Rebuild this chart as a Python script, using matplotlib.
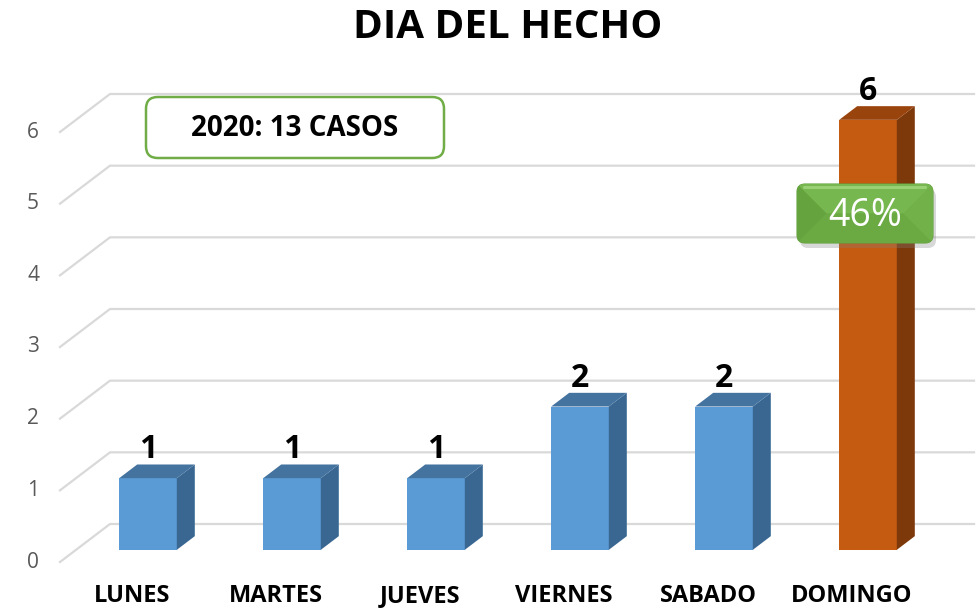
import matplotlib
matplotlib.use("Agg")
import matplotlib.pyplot as plt
import matplotlib.transforms as mtransforms
from matplotlib.patches import Polygon, FancyBboxPatch

categories = ["LUNES", "MARTES", "JUEVES", "VIERNES", "SABADO", "DOMINGO"]
values = [1, 1, 1, 2, 2, 6]
year = 2020
yticks = [0, 1, 2, 3, 4, 5, 6]
title = "DIA DEL HECHO"

W, H = 980, 608
fig = plt.figure(figsize=(W / 100, H / 100), dpi=100)
fig.patch.set_facecolor("white")
ax = fig.add_axes([60 / W, (H - 562) / H, 864 / W, 430 / H])
ax.set_xlim(-0.5, len(categories) - 0.5)
ax.set_ylim(0, 6)
ax.axis("off")

s = fig.dpi / 100.0


def shift(dx, dy):
    return ax.transData + mtransforms.Affine2D().translate(dx * s, dy * s)


DX, DY = 50, 38
f0, f1 = 0.32, 0.68
grid_c = "#D9D9D9"

xl, xr = -0.5, len(categories) - 0.5
for v in yticks:
    p0 = ax.transData.transform((xl, v))
    p1 = p0 + (DX * s, DY * s)
    p2 = ax.transData.transform((xr, v)) + (DX * s, DY * s)
    fig.add_artist(plt.Line2D([p0[0], p1[0], p2[0]], [p0[1], p1[1], p2[1]],
                              transform=None, color=grid_c, lw=1.6, zorder=0))
    ax.text(-0.5, v, str(v), transform=shift(-27, 0), ha="center", va="center",
            fontsize=15, color="#595959", family="Open Sans", clip_on=False)

bw = 0.4
blue = ("#5B9BD5", "#3A6792", "#44739F")
orange = ("#C55A11", "#7E390B", "#9A440D")
imax = values.index(max(values))
bdx, bdy = DX * (f1 - f0), DY * (f1 - f0)
for i, (c, v) in enumerate(zip(categories, values)):
    front, side, top = orange if i == imax else blue
    ox, oy = DX * f0, DY * f0
    tr = shift(ox, oy)
    x0, x1 = i - bw / 2, i + bw / 2
    A = tr.transform([(x1, 0), (x1, v)])
    side_pts = [A[0], A[1], A[1] + (bdx * s, bdy * s), A[0] + (bdx * s, bdy * s)]
    fig.add_artist(Polygon(side_pts, closed=True, transform=None, facecolor=side,
                           edgecolor="none", zorder=2))
    B = tr.transform([(x0, v), (x1, v)])
    top_pts = [B[0], B[1], B[1] + (bdx * s, bdy * s), B[0] + (bdx * s, bdy * s)]
    fig.add_artist(Polygon(top_pts, closed=True, transform=None, facecolor=top,
                           edgecolor="none", zorder=2))
    ax.add_patch(Polygon([(x0, 0), (x1, 0), (x1, v), (x0, v)], closed=True,
                         transform=tr, facecolor=front, edgecolor="none", zorder=3,
                         clip_on=False))
    ax.text(i, v, str(v), transform=shift(ox, oy + 20), ha="center", va="baseline",
            fontsize=23, fontweight="bold", family="Open Sans", color="black",
            clip_on=False)
    ax.text(i, 0, c, transform=shift(0, -40), ha="center", va="baseline",
            fontsize=17, fontweight="bold", family="Open Sans", color="black",
            clip_on=False)

fig.text(508 / W, 1 - 27 / H, title, ha="center", va="center", fontsize=29,
         fontweight="bold", family="Open Sans")

# summary box
total = sum(values)
box = FancyBboxPatch((146 / W, 1 - 158 / H), 298 / W, 61 / H,
                     boxstyle="round,pad=0,rounding_size=0.012",
                     transform=fig.transFigure, facecolor="white",
                     edgecolor="#70AD47", lw=1.8, zorder=5, mutation_aspect=W / H)
fig.add_artist(box)
fig.text(295 / W, 1 - 129 / H, f"{year}: {total} CASOS", ha="center", va="center",
         fontsize=20, fontweight="bold", family="Open Sans", zorder=6)

# percentage callout (beveled green button)
pct = round(100 * max(values) / total)
bx0, bx1, by0, by1 = 797, 933, H - 243, H - 184  # display px (y up)
shadow = FancyBboxPatch((bx0 + 3, by0 - 5), bx1 - bx0, by1 - by0,
                        boxstyle="round,pad=0,rounding_size=8", transform=None,
                        facecolor="#808080", alpha=0.3, edgecolor="none", zorder=6)
fig.add_artist(shadow)
gbox = FancyBboxPatch((bx0, by0), bx1 - bx0, by1 - by0,
                      boxstyle="round,pad=0,rounding_size=8", transform=None,
                      facecolor="#6FAE47", edgecolor="#62A03C", lw=0.8, zorder=7)
fig.add_artist(gbox)
hgt = by1 - by0
cy = (by0 + by1) / 2
lax, rax = bx0 + hgt / 2, bx1 - hgt / 2
facets = [
    ([(bx0, by1), (bx1, by1), (rax, cy), (lax, cy)], "#77B74F"),  # top
    ([(bx0, by0), (bx1, by0), (rax, cy), (lax, cy)], "#6BAA43"),  # bottom
    ([(bx0, by0), (bx0, by1), (lax, cy)], "#64A33D"),  # left
    ([(bx1, by0), (bx1, by1), (rax, cy)], "#72B04A"),  # right
]
for pts, col in facets:
    pg = Polygon(pts, closed=True, transform=None, facecolor=col, edgecolor="none",
                 zorder=7.2)
    fig.add_artist(pg)
    pg.set_clip_path(gbox)
hl = FancyBboxPatch((bx0 + 6, by1 - 5), bx1 - bx0 - 12, 3,
                    boxstyle="round,pad=0,rounding_size=1.5", transform=None,
                    facecolor="#A8DC88", alpha=0.7, edgecolor="none", zorder=7.4)
fig.add_artist(hl)
fig.text(865 / W, 1 - 216 / H, f"{pct}%", ha="center", va="center", fontsize=27,
         color="white", family="Open Sans", zorder=8)

fig.savefig("out.png", dpi=100, facecolor="white")
